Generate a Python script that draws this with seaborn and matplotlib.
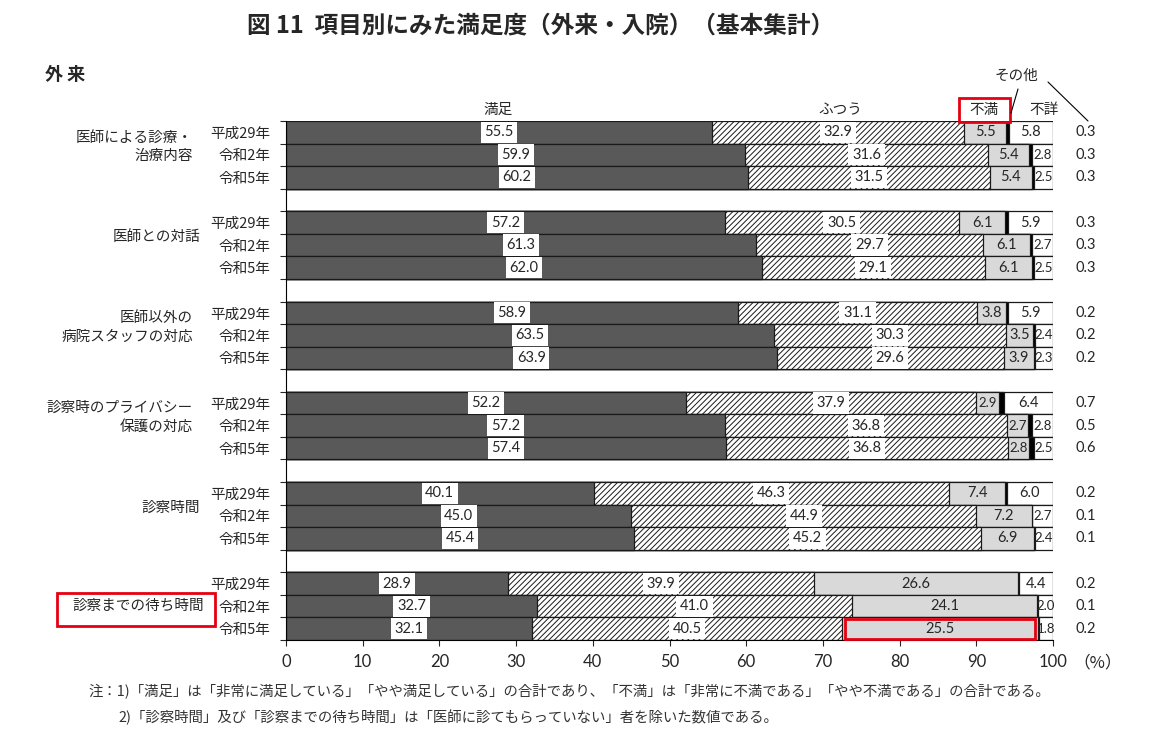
import numpy as np
import pandas as pd
import matplotlib
matplotlib.use('Agg')
import matplotlib.pyplot as plt
import matplotlib.transforms as mtransforms
from matplotlib.patches import Rectangle
from matplotlib.lines import Line2D
import seaborn as sns

sns.set_style('ticks')
plt.rcParams['font.family'] = ['Noto Sans CJK JP', 'DejaVu Sans']
plt.rcParams['hatch.linewidth'] = 0.7

# data (外来, %)
groups = ['医師による診療・\n治療内容', '医師との対話', '医師以外の\n病院スタッフの対応',
          '診察時のプライバシー\n保護の対応', '診察時間', '診察までの待ち時間']
years = ['平成29年', '令和2年', '令和5年']
manzoku = [55.5, 59.9, 60.2, 57.2, 61.3, 62.0, 58.9, 63.5, 63.9,
           52.2, 57.2, 57.4, 40.1, 45.0, 45.4, 28.9, 32.7, 32.1]
futsuu = [32.9, 31.6, 31.5, 30.5, 29.7, 29.1, 31.1, 30.3, 29.6,
          37.9, 36.8, 36.8, 46.3, 44.9, 45.2, 39.9, 41.0, 40.5]
fuman = [5.5, 5.4, 5.4, 6.1, 6.1, 6.1, 3.8, 3.5, 3.9,
         2.9, 2.7, 2.8, 7.4, 7.2, 6.9, 26.6, 24.1, 25.5]
sonota = [0.3, 0.3, 0.3, 0.3, 0.3, 0.3, 0.2, 0.2, 0.2,
          0.7, 0.5, 0.6, 0.2, 0.1, 0.1, 0.2, 0.1, 0.2]
fusho = [5.8, 2.8, 2.5, 5.9, 2.7, 2.5, 5.9, 2.4, 2.3,
         6.4, 2.8, 2.5, 6.0, 2.7, 2.4, 4.4, 2.0, 1.8]

cols = ['満足', 'ふつう', '不満', 'その他', '不詳']
df = pd.DataFrame({'満足': manzoku, 'ふつう': futsuu, '不満': fuman,
                   'その他': sonota, '不詳': fusho})
df['pos'] = np.repeat(np.arange(6), 3) * 4 + np.tile(np.arange(3), 6)
# 100% stacked, like the original Excel chart
share = df[cols].div(df[cols].sum(axis=1), axis=0) * 100
cum = share.cumsum(axis=1)

fig = plt.figure(figsize=(11.55, 7.45), dpi=100)
ax = fig.add_axes([286 / 1155, 1 - 640 / 745, 767 / 1155, 519 / 745])

edge = '#1a1a1a'
layers = [('不詳', 'white', None), ('その他', 'black', None), ('不満', '#d9d9d9', None),
          ('ふつう', 'white', '//////'), ('満足', '#595959', None)]
for col, face, hatch in layers:
    sns.barplot(x=cum[col], y=df['pos'], orient='y', native_scale=True, width=1,
                color=face, saturation=1, edgecolor=edge, linewidth=0.9,
                hatch=hatch, errorbar=None, ax=ax)

ax.set_xlim(0, 100)
ax.set_ylim(22.5, -0.5)
ax.set_xlabel('')
ax.set_ylabel('')
for s in ['top', 'right']:
    ax.spines[s].set_visible(False)
for s in ['left', 'bottom']:
    ax.spines[s].set_color('black')
    ax.spines[s].set_linewidth(0.8)

ax.set_xticks(range(0, 101, 10))
ax.tick_params(axis='x', length=4, width=0.8, direction='out', labelsize=12, pad=6)
for t in ax.get_xticklabels():
    t.set_fontfamily(['Lato', 'DejaVu Sans'])
ax.set_yticks(np.arange(-0.5, 23, 1))
ax.set_yticks(df['pos'], minor=True)
ax.set_yticklabels(years * 6, minor=True)
ax.tick_params(axis='y', which='major', length=4, width=0.8, direction='out', labelleft=False)
ax.tick_params(axis='y', which='minor', length=0, pad=11, labelsize=10.5)

# segment values
num_font = ['Lato', 'DejaVu Sans']
for i in range(len(df)):
    left = 0
    for col in cols:
        w = share[col].iloc[i]
        v = df[col].iloc[i]
        c = left + w / 2
        left += w
        if col == 'その他':
            continue
        fs = 9.5 if v < 3 else 10.5
        box = None
        if col in ('満足', 'ふつう'):
            box = dict(boxstyle='square,pad=0.25', fc='white', ec='none')
        ax.text(c, df['pos'].iloc[i], f'{v:.1f}', ha='center', va='center',
                fontsize=fs, family=num_font, bbox=box, clip_on=False)
    ax.text(104.3, df['pos'].iloc[i], f'{df["その他"].iloc[i]:.1f}', ha='center',
            va='center', fontsize=10.5, family=num_font, clip_on=False)

# red box around the 25.5 segment
i_last = len(df) - 1
x0 = cum['ふつう'].iloc[i_last]
ax.add_patch(Rectangle((x0 + 0.3, df['pos'].iloc[i_last] - 0.44),
                       share['不満'].iloc[i_last] - 0.6, 0.88,
                       fill=False, ec='#e60012', lw=2, clip_on=False, zorder=5))

# group labels
trans = mtransforms.blended_transform_factory(fig.transFigure, ax.transData)
for g, name in enumerate(groups):
    xr = 193 if '\n' in name else 200
    dy = 0 if g == len(groups) - 1 else -0.35
    if g == len(groups) - 1:
        xr = 204
    ax.text(xr / 1155, g * 4 + 1 + dy, name, transform=trans, ha='right', va='center',
            fontsize=10.5, linespacing=1.45, multialignment='right')


def fx(px):
    return px / 1155


def fy(py):
    return 1 - py / 745


fig.text(fx(541), fy(25), '図 11  項目別にみた満足度（外来・入院）（基本集計）',
         ha='center', va='center', fontsize=17, fontweight='bold')
fig.text(fx(45), fy(75), '外 来', ha='left', va='center', fontsize=13, fontweight='bold')

# legend-like headers
fig.text(fx(498), fy(110), '満足', ha='center', va='center', fontsize=10.5)
fig.text(fx(840), fy(110), 'ふつう', ha='center', va='center', fontsize=10.5)
fig.text(fx(984), fy(110), '不満', ha='center', va='center', fontsize=10.5)
fig.text(fx(1044), fy(110), '不詳', ha='center', va='center', fontsize=10.5)
fig.text(fx(1016), fy(76), 'その他', ha='center', va='center', fontsize=10.5)
fig.add_artist(Rectangle((fx(959), fy(122)), fx(51), 24 / 745, transform=fig.transFigure,
                         fill=False, ec='#e60012', lw=2))
fig.add_artist(Line2D([fx(1018), fx(1011)], [fy(89), fy(113)], transform=fig.transFigure,
                      color='black', lw=0.8))
fig.add_artist(Line2D([fx(1048), fx(1088)], [fy(82), fy(121)], transform=fig.transFigure,
                      color='black', lw=0.8))

# red box around group label
fig.add_artist(Rectangle((fx(57), fy(626)), fx(158), 33 / 745, transform=fig.transFigure,
                         fill=False, ec='#e60012', lw=2))

fig.text(fx(1098), fy(663), '（%）', ha='center', va='center', fontsize=12)

fig.text(fx(88), fy(691), '注：1)「満足」は「非常に満足している」「やや満足している」の合計であり、'
         '「不満」は「非常に不満である」「やや不満である」の合計である。',
         ha='left', va='center', fontsize=10.4, color='#333333')
fig.text(fx(118), fy(717), '2)「診察時間」及び「診察までの待ち時間」は「医師に診てもらっていない」者を除いた数値である。',
         ha='left', va='center', fontsize=10.4, color='#333333')

fig.savefig('out.png', dpi=100)
